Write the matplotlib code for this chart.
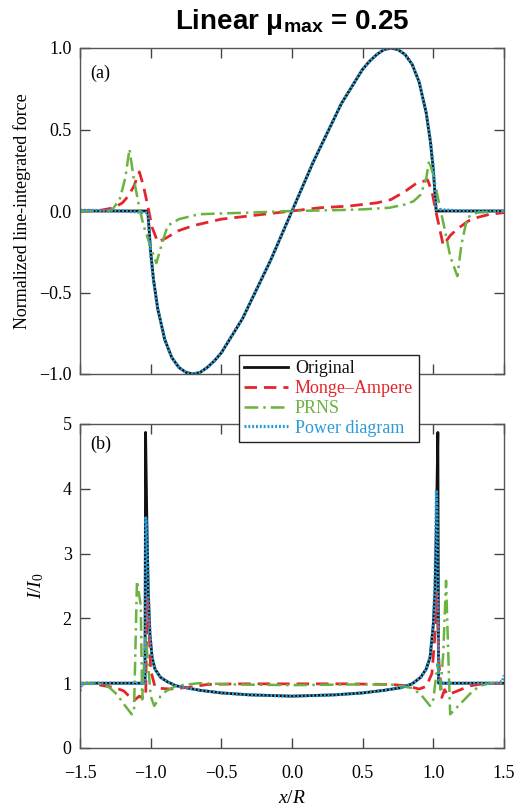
import matplotlib
matplotlib.use("Agg")
import matplotlib.pyplot as plt
from matplotlib.lines import Line2D

plt.rcParams["font.family"] = ["Liberation Serif", "DejaVu Serif"]
plt.rcParams["mathtext.fontset"] = "custom"
plt.rcParams["mathtext.rm"] = "Liberation Serif"
plt.rcParams["mathtext.it"] = "Liberation Serif:italic"
plt.rcParams["mathtext.bf"] = "Liberation Sans:bold"

# ---- panel (a): normalized line-integrated force ----
orig_a_x = [-1.5, -1.2, -1.02, -1.0, -0.98, -0.95, -0.9, -0.85, -0.8, -0.75, -0.7, -0.65,
            -0.6, -0.55, -0.5, -0.45, -0.4, -0.35, -0.3, -0.25, -0.2, -0.15, -0.1, -0.05,
            0.0, 0.05, 0.1, 0.15, 0.2, 0.25, 0.3, 0.35, 0.4, 0.45, 0.5, 0.55, 0.6, 0.65,
            0.7, 0.75, 0.8, 0.85, 0.9, 0.95, 0.98, 1.0, 1.02, 1.2, 1.5]
orig_a_y = [0.0, 0.0, 0.0, -0.25, -0.42, -0.6, -0.79, -0.9, -0.96, -0.99, -1.0, -0.99,
            -0.96, -0.92, -0.87, -0.8, -0.73, -0.66, -0.57, -0.48, -0.39, -0.3, -0.2, -0.1,
            0.0, 0.1, 0.2, 0.3, 0.39, 0.48, 0.57, 0.66, 0.73, 0.8, 0.87, 0.92, 0.96, 0.99,
            1.0, 0.99, 0.96, 0.9, 0.79, 0.6, 0.42, 0.25, 0.0, 0.0, 0.0]
power_a_y = [0.005, 0.0, -0.01, -0.27, -0.43, -0.6, -0.79, -0.9, -0.96, -0.99, -1.0, -0.99,
             -0.96, -0.92, -0.87, -0.8, -0.73, -0.66, -0.57, -0.48, -0.39, -0.3, -0.2, -0.1,
             0.0, 0.1, 0.2, 0.3, 0.39, 0.48, 0.57, 0.66, 0.73, 0.8, 0.87, 0.92, 0.96, 0.99,
             1.0, 0.99, 0.96, 0.9, 0.79, 0.6, 0.43, 0.27, 0.01, 0.0, 0.0]

ma_a_x = [-1.5, -1.35, -1.26, -1.2, -1.16, -1.12, -1.08, -1.05, -1.02, -0.99, -0.95, -0.9,
          -0.8, -0.7, -0.6, -0.5, -0.4, -0.3, -0.2, -0.1, 0.0, 0.1, 0.2, 0.3, 0.4, 0.5,
          0.6, 0.7, 0.8, 0.88, 0.96, 0.99, 1.02, 1.07, 1.12, 1.17, 1.25, 1.31, 1.4, 1.5]
ma_a_y = [0.0, 0.005, 0.02, 0.05, 0.09, 0.15, 0.24, 0.15, 0.03, -0.1, -0.19, -0.17,
          -0.12, -0.09, -0.07, -0.05, -0.04, -0.03, -0.02, -0.01, 0.0, 0.01, 0.02, 0.025, 0.03, 0.04,
          0.05, 0.07, 0.12, 0.17, 0.19, 0.12, -0.01, -0.21, -0.15, -0.11, -0.06, -0.04, -0.02, -0.01]

prns_a_x = [-1.5, -1.3, -1.27, -1.22, -1.18, -1.15, -1.12, -1.08, -1.05, -1.0, -0.96, -0.92,
            -0.88, -0.8, -0.66, -0.5, -0.3, 0.0, 0.3, 0.5, 0.69, 0.8, 0.86, 0.91, 0.95, 0.97,
            1.0, 1.04, 1.08, 1.12, 1.17, 1.2, 1.24, 1.31, 1.5]
prns_a_y = [0.0, 0.0, 0.01, 0.07, 0.2, 0.38, 0.2, 0.02, -0.09, -0.22, -0.32, -0.2,
            -0.09, -0.05, -0.02, -0.015, -0.01, 0.0, 0.005, 0.01, 0.02, 0.04, 0.06, 0.1, 0.2, 0.31,
            0.22, 0.05, -0.11, -0.28, -0.4, -0.2, -0.04, -0.01, 0.0]

# ---- panel (b): I/I0 ----
orig_b_x = [-1.5, -1.04, -1.036, -1.027, -1.017, -1.005, -0.99, -0.97, -0.93, -0.88, -0.82,
            -0.75, -0.65, -0.5, -0.3, 0.0, 0.3, 0.5, 0.65, 0.77, 0.85, 0.91, 0.95, 0.977,
            1.0, 1.012, 1.022, 1.032, 1.037, 1.5]
orig_b_y = [1.0, 1.0, 4.87, 3.5, 2.4, 1.75, 1.4, 1.22, 1.09, 1.02, 0.96,
            0.93, 0.89, 0.85, 0.82, 0.8, 0.82, 0.85, 0.89, 0.93, 0.99, 1.09, 1.22, 1.4,
            1.91, 2.43, 3.5, 4.87, 1.0, 1.0]

power_b_x = [-1.5, -1.49, -1.45, -1.04, -1.035, -1.027, -1.017, -1.005, -0.99, -0.97, -0.93,
             -0.88, -0.82, -0.75, -0.65, -0.5, -0.3, 0.0, 0.3, 0.5, 0.65, 0.77, 0.85, 0.91,
             0.95, 0.977, 1.0, 1.012, 1.022, 1.03, 1.038, 1.45, 1.49, 1.5]
power_b_y = [0.88, 0.98, 1.0, 1.0, 3.55, 3.4, 2.4, 1.75, 1.4, 1.22, 1.09,
             1.02, 0.96, 0.93, 0.89, 0.85, 0.82, 0.8, 0.82, 0.85, 0.89, 0.93, 0.99, 1.09,
             1.22, 1.4, 1.91, 2.6, 3.98, 3.2, 1.0, 1.0, 1.03, 1.12]

ma_b_x = [-1.5, -1.4, -1.33, -1.25, -1.19, -1.12, -1.08, -1.05, -1.035, -1.025, -1.012, -1.0,
          -0.97, -0.93, -0.86, -0.72, -0.6, -0.4, 0.0, 0.4, 0.7, 0.81, 0.9, 0.95, 0.99,
          1.01, 1.025, 1.04, 1.06, 1.08, 1.1, 1.17, 1.26, 1.35, 1.5]
ma_b_y = [1.0, 0.99, 0.96, 0.93, 0.88, 0.73, 0.8, 0.76, 0.8, 2.35, 1.9, 1.2,
          0.95, 0.92, 0.91, 0.94, 0.98, 0.99, 0.99, 0.99, 0.98, 0.96, 0.91, 0.95, 1.15,
          1.7, 2.4, 1.3, 0.78, 0.9, 0.82, 0.88, 0.96, 0.99, 1.0]

prns_b_x = [-1.5, -1.35, -1.29, -1.24, -1.18, -1.134, -1.118, -1.097, -1.07, -1.06, -1.035,
            -1.0, -0.975, -0.93, -0.89, -0.82, -0.66, -0.4, 0.0, 0.4, 0.7, 0.84, 0.91, 0.977,
            1.0, 1.03, 1.05, 1.07, 1.09, 1.105, 1.119, 1.19, 1.27, 1.33, 1.4, 1.5]
prns_b_y = [1.0, 0.99, 0.93, 0.83, 0.65, 0.52, 0.55, 2.58, 2.2, 0.75, 1.75,
            0.8, 0.65, 0.8, 0.88, 0.96, 1.0, 0.98, 0.97, 0.98, 0.98, 0.93, 0.83, 0.65,
            0.75, 1.3, 0.9, 1.45, 2.58, 1.5, 0.52, 0.68, 0.86, 0.96, 1.0, 1.0]

labels = ["Original", "Monge\u2013Ampere", "PRNS", "Power diagram"]
colors = ["#111111", "#e3262b", "#6ab33f", "#2a9bd6"]

fig = plt.figure(figsize=(5.2, 8.07), dpi=100)
W, H = 520.0, 807.0
ax1 = fig.add_axes([80 / W, 1 - 374 / H, 424 / W, 326 / H])
ax2 = fig.add_axes([80 / W, 1 - 748 / H, 424 / W, 324 / H])

red_style = dict(color=colors[1], lw=2.0, ls=(0, (4.5, 2.5)))
green_style = dict(color=colors[2], lw=1.8, ls=(0, (5.5, 2, 1, 2)))
blue_style = dict(color=colors[3], lw=2.3, ls=(0, (0.6, 0.6)))
black_style = dict(color=colors[0], lw=2.0, ls="-")

ax1.plot(orig_a_x, orig_a_y, **black_style)
ax1.plot(ma_a_x, ma_a_y, **red_style)
ax1.plot(prns_a_x, prns_a_y, **green_style)
ax1.plot(orig_a_x, power_a_y, **blue_style)

ax2.plot(orig_b_x, orig_b_y, **black_style)
ax2.plot(ma_b_x, ma_b_y, **red_style)
ax2.plot(prns_b_x, prns_b_y, **green_style)
ax2.plot(power_b_x, power_b_y, **blue_style)

xticks = [-1.5, -1.0, -0.5, 0.0, 0.5, 1.0, 1.5]
for ax in (ax1, ax2):
    ax.set_xlim(-1.5, 1.5)
    ax.set_xticks(xticks)
    ax.tick_params(direction="in", length=7, width=1, top=True, right=True,
                   labelsize=13, color="#444444", pad=6)
    ax.tick_params(axis="x", pad=12)
    for s in ax.spines.values():
        s.set_color("#555555")
        s.set_linewidth(1.0)

ax1.set_ylim(-1.0, 1.0)
ax1.set_yticks([-1.0, -0.5, 0.0, 0.5, 1.0])
ax1.set_yticklabels(["\u22121.0", "\u22120.5", "0.0", "0.5", "1.0"])
ax1.tick_params(labelbottom=False)
ax1.set_ylabel("Normalized line-integrated force", fontsize=13, labelpad=6)
ax1.text(0.025, 0.95, "(a)", transform=ax1.transAxes, fontsize=13, va="top", ha="left")

ax2.set_ylim(0, 5)
ax2.set_yticks([0, 1, 2, 3, 4, 5])
ax2.set_xticklabels(["\u22121.5", "\u22121.0", "\u22120.5", "0.0", "0.5", "1.0", "1.5"])
ax2.set_ylabel("$I/I_0$", fontsize=14, style="italic", labelpad=12)
ax2.set_xlabel("$x/R$", fontsize=14, labelpad=6)
ax2.text(0.025, 0.965, "(b)", transform=ax2.transAxes, fontsize=13, va="top", ha="left")

fig.text(292 / W, 1 - 22 / H, "Linear \u03bc$_{\\mathbf{max}}$ = 0.25", ha="center", va="center",
         fontsize=20, fontweight="bold", family="Liberation Sans")

handles = [Line2D([], [], **black_style), Line2D([], [], **red_style),
           Line2D([], [], **green_style), Line2D([], [], **blue_style)]
leg = fig.legend(handles, labels, loc="upper left", bbox_to_anchor=(239 / W, 1 - 355 / H),
                 borderaxespad=0, fontsize=13, frameon=True, fancybox=False,
                 edgecolor="#222222", framealpha=1, handlelength=2.4, handletextpad=0.4,
                 labelspacing=0.15, borderpad=0.3)
leg.get_frame().set_linewidth(1.0)
for t, c in zip(leg.get_texts(), colors):
    t.set_color(c)

fig.savefig("out.png", dpi=100)
